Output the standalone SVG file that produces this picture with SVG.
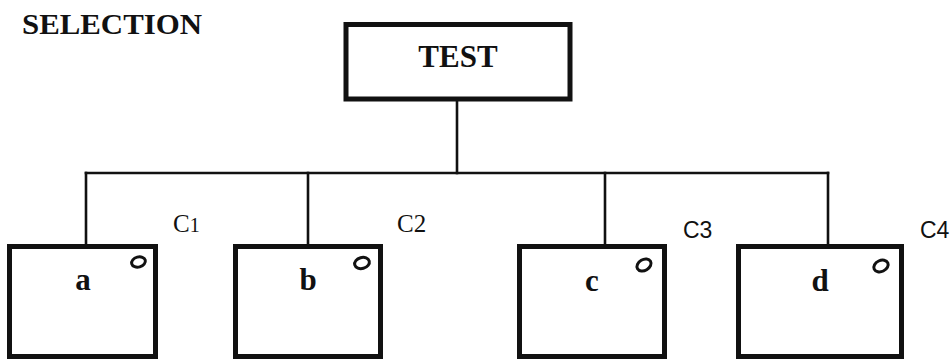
<svg xmlns="http://www.w3.org/2000/svg" width="952" height="359" viewBox="0 0 952 359">
  <style>
    .box { fill: #ffffff; stroke: #111111; stroke-width: 5; }
    .wire { fill: none; stroke: #111111; stroke-width: 2.6; stroke-linecap: square; }
    .mark { fill: none; stroke: #111111; stroke-width: 3; }
    .title { font-family: "Liberation Serif", "Times New Roman", serif; font-weight: bold; font-size: 30px; fill: #111111; }
    .letter { font-family: "Liberation Serif", "Times New Roman", serif; font-weight: bold; font-size: 31px; fill: #111111; text-anchor: middle; }
    .case-serif { font-family: "Liberation Serif", "Times New Roman", serif; font-size: 25px; fill: #111111; }
    .case-sans { font-family: "Liberation Sans", Arial, sans-serif; font-size: 23px; fill: #111111; }
  </style>

  <rect width="952" height="359" fill="#ffffff"/>

  <text class="title" x="22" y="34" textLength="180" lengthAdjust="spacingAndGlyphs">SELECTION</text>

  <!-- connectors: test box down to the bus, bus out to each case -->
  <g id="connectors">
    <line class="wire" x1="457" y1="100" x2="457" y2="173"/>
    <line class="wire" x1="86" y1="173" x2="828" y2="173"/>
    <line class="wire" x1="86" y1="173" x2="86" y2="245"/>
    <line class="wire" x1="308" y1="173" x2="308" y2="245"/>
    <line class="wire" x1="605" y1="173" x2="605" y2="245"/>
    <line class="wire" x1="828" y1="173" x2="828" y2="245"/>
  </g>

  <g id="test">
    <rect class="box" x="346" y="24.5" width="224" height="74.5" stroke-width="4.5"/>
    <text class="letter" x="458" y="67">TEST</text>
  </g>

  <g id="case-a">
    <rect class="box" x="9.5" y="246.5" width="146" height="110"/>
    <text class="letter" x="83" y="290">a</text>
    <ellipse class="mark" cx="138.5" cy="262" rx="7" ry="5" transform="rotate(-15 138.5 262)"/>
    <text class="case-serif" x="173" y="232">C<tspan font-size="20">1</tspan></text>
  </g>

  <g id="case-b">
    <rect class="box" x="235.5" y="246.5" width="145" height="110"/>
    <text class="letter" x="308" y="290">b</text>
    <ellipse class="mark" cx="362" cy="263" rx="7.5" ry="5.5" transform="rotate(-15 362 263)"/>
    <text class="case-serif" x="397" y="232">C2</text>
  </g>

  <g id="case-c">
    <rect class="box" x="519.5" y="246.5" width="145" height="110"/>
    <text class="letter" x="592" y="291">c</text>
    <ellipse class="mark" cx="644" cy="265" rx="7.5" ry="5.5" transform="rotate(-30 644 265)"/>
    <text class="case-sans" x="683" y="238">C3</text>
  </g>

  <g id="case-d">
    <rect class="box" x="738.5" y="246.5" width="163" height="110"/>
    <text class="letter" x="820" y="291">d</text>
    <ellipse class="mark" cx="881" cy="266" rx="7.5" ry="5.5" transform="rotate(-25 881 266)"/>
    <text class="case-sans" x="920" y="238">C4</text>
  </g>
</svg>
